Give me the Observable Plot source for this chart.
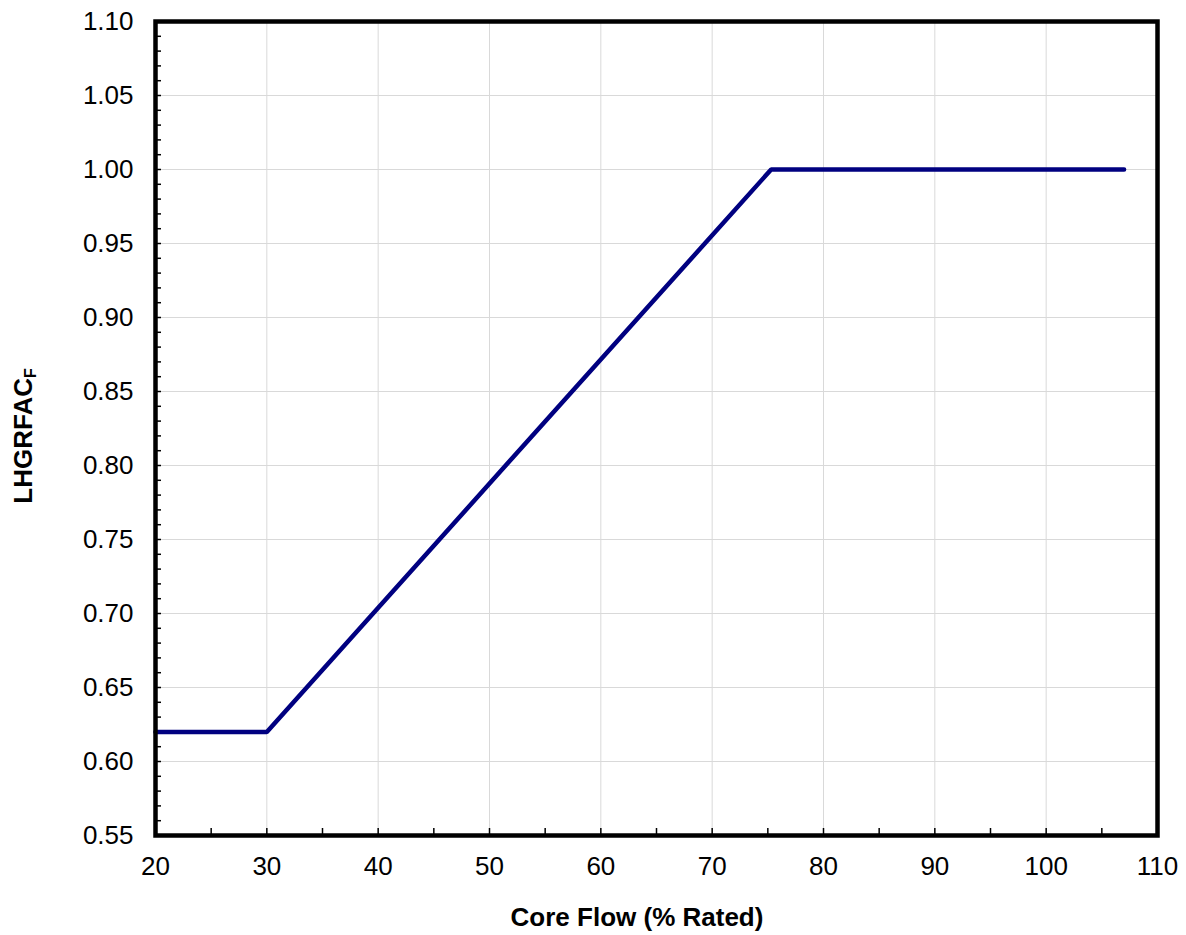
<!DOCTYPE html>
<html>
<head>
<meta charset="utf-8">
<script src="https://cdn.jsdelivr.net/npm/d3@7"></script>
<script src="https://cdn.jsdelivr.net/npm/@observablehq/plot@0.6"></script>
<style>
  html, body { margin: 0; padding: 0; background: #fff; }
  #chart svg { display: block; }
</style>
</head>
<body>
<div id="chart"></div>
<script>
// Data
const coreFlow = [20, 30, 75.3, 107];
const lhgrfac = [0.62, 0.62, 1.00, 1.00];

// Axis ticks
const xMajorTicks = [20, 30, 40, 50, 60, 70, 80, 90, 100, 110];
const xMinorTicks = [20, 25, 30, 35, 40, 45, 50, 55, 60, 65, 70, 75, 80, 85, 90, 95, 100, 105, 110];
const yMajorTicks = [0.55, 0.60, 0.65, 0.70, 0.75, 0.80, 0.85, 0.90, 0.95, 1.00, 1.05, 1.10];
const yMinorTicks = d3.range(55, 111, 1).map(v => v / 100);

const xTitle = "Core Flow (% Rated)";
const yTitleMain = "LHGRFAC";
const yTitleSub = "F";

const points = coreFlow.map((x, i) => ({x, y: lhgrfac[i]}));
const FONT = "'Liberation Sans', Arial, Helvetica, sans-serif";

const chart = Plot.plot({
  width: 1186,
  height: 935,
  marginLeft: 155,
  marginRight: 29,
  marginTop: 21,
  marginBottom: 100,
  style: {fontFamily: FONT, background: "#fff", color: "#000"},
  x: {domain: [20, 110]},
  y: {domain: [0.55, 1.10]},
  marks: [
    Plot.gridX(xMajorTicks, {stroke: "#d9d9d9", strokeOpacity: 1, strokeWidth: 1}),
    Plot.gridY(yMajorTicks, {stroke: "#d9d9d9", strokeOpacity: 1, strokeWidth: 1}),
    Plot.axisX(xMajorTicks, {tickSize: 0, tickPadding: 21, fontSize: 26, label: null, fill: "#000"}),
    Plot.axisX(xMinorTicks, {tickSize: -7, text: null, label: null, stroke: "#000", strokeWidth: 1.5}),
    Plot.axisY(yMajorTicks, {tickSize: 0, tickPadding: 22, fontSize: 26, label: null, tickFormat: d => d.toFixed(2), fill: "#000"}),
    Plot.axisY(yMinorTicks, {tickSize: -6, text: null, label: null, stroke: "#000", strokeWidth: 1.5}),
    Plot.line(points, {x: "x", y: "y", stroke: "#000080", strokeWidth: 4.5, strokeLinejoin: "miter", strokeLinecap: "round"}),
    Plot.frame({stroke: "#000", strokeWidth: 4.5})
  ]
});

const svg = d3.select(chart);
svg.append("text")
  .attr("x", 637)
  .attr("y", 926)
  .attr("text-anchor", "middle")
  .attr("font-family", FONT)
  .attr("font-weight", "bold")
  .attr("font-size", 26)
  .attr("fill", "#000")
  .text(xTitle);

const yt = svg.append("text")
  .attr("transform", "translate(32,436) rotate(-90)")
  .attr("text-anchor", "middle")
  .attr("font-family", FONT)
  .attr("font-weight", "bold")
  .attr("font-size", 26)
  .attr("fill", "#000");
yt.append("tspan").text(yTitleMain);
yt.append("tspan").attr("font-size", 16).attr("dy", 4).text(yTitleSub);

document.getElementById("chart").appendChild(chart);
</script>
</body>
</html>
